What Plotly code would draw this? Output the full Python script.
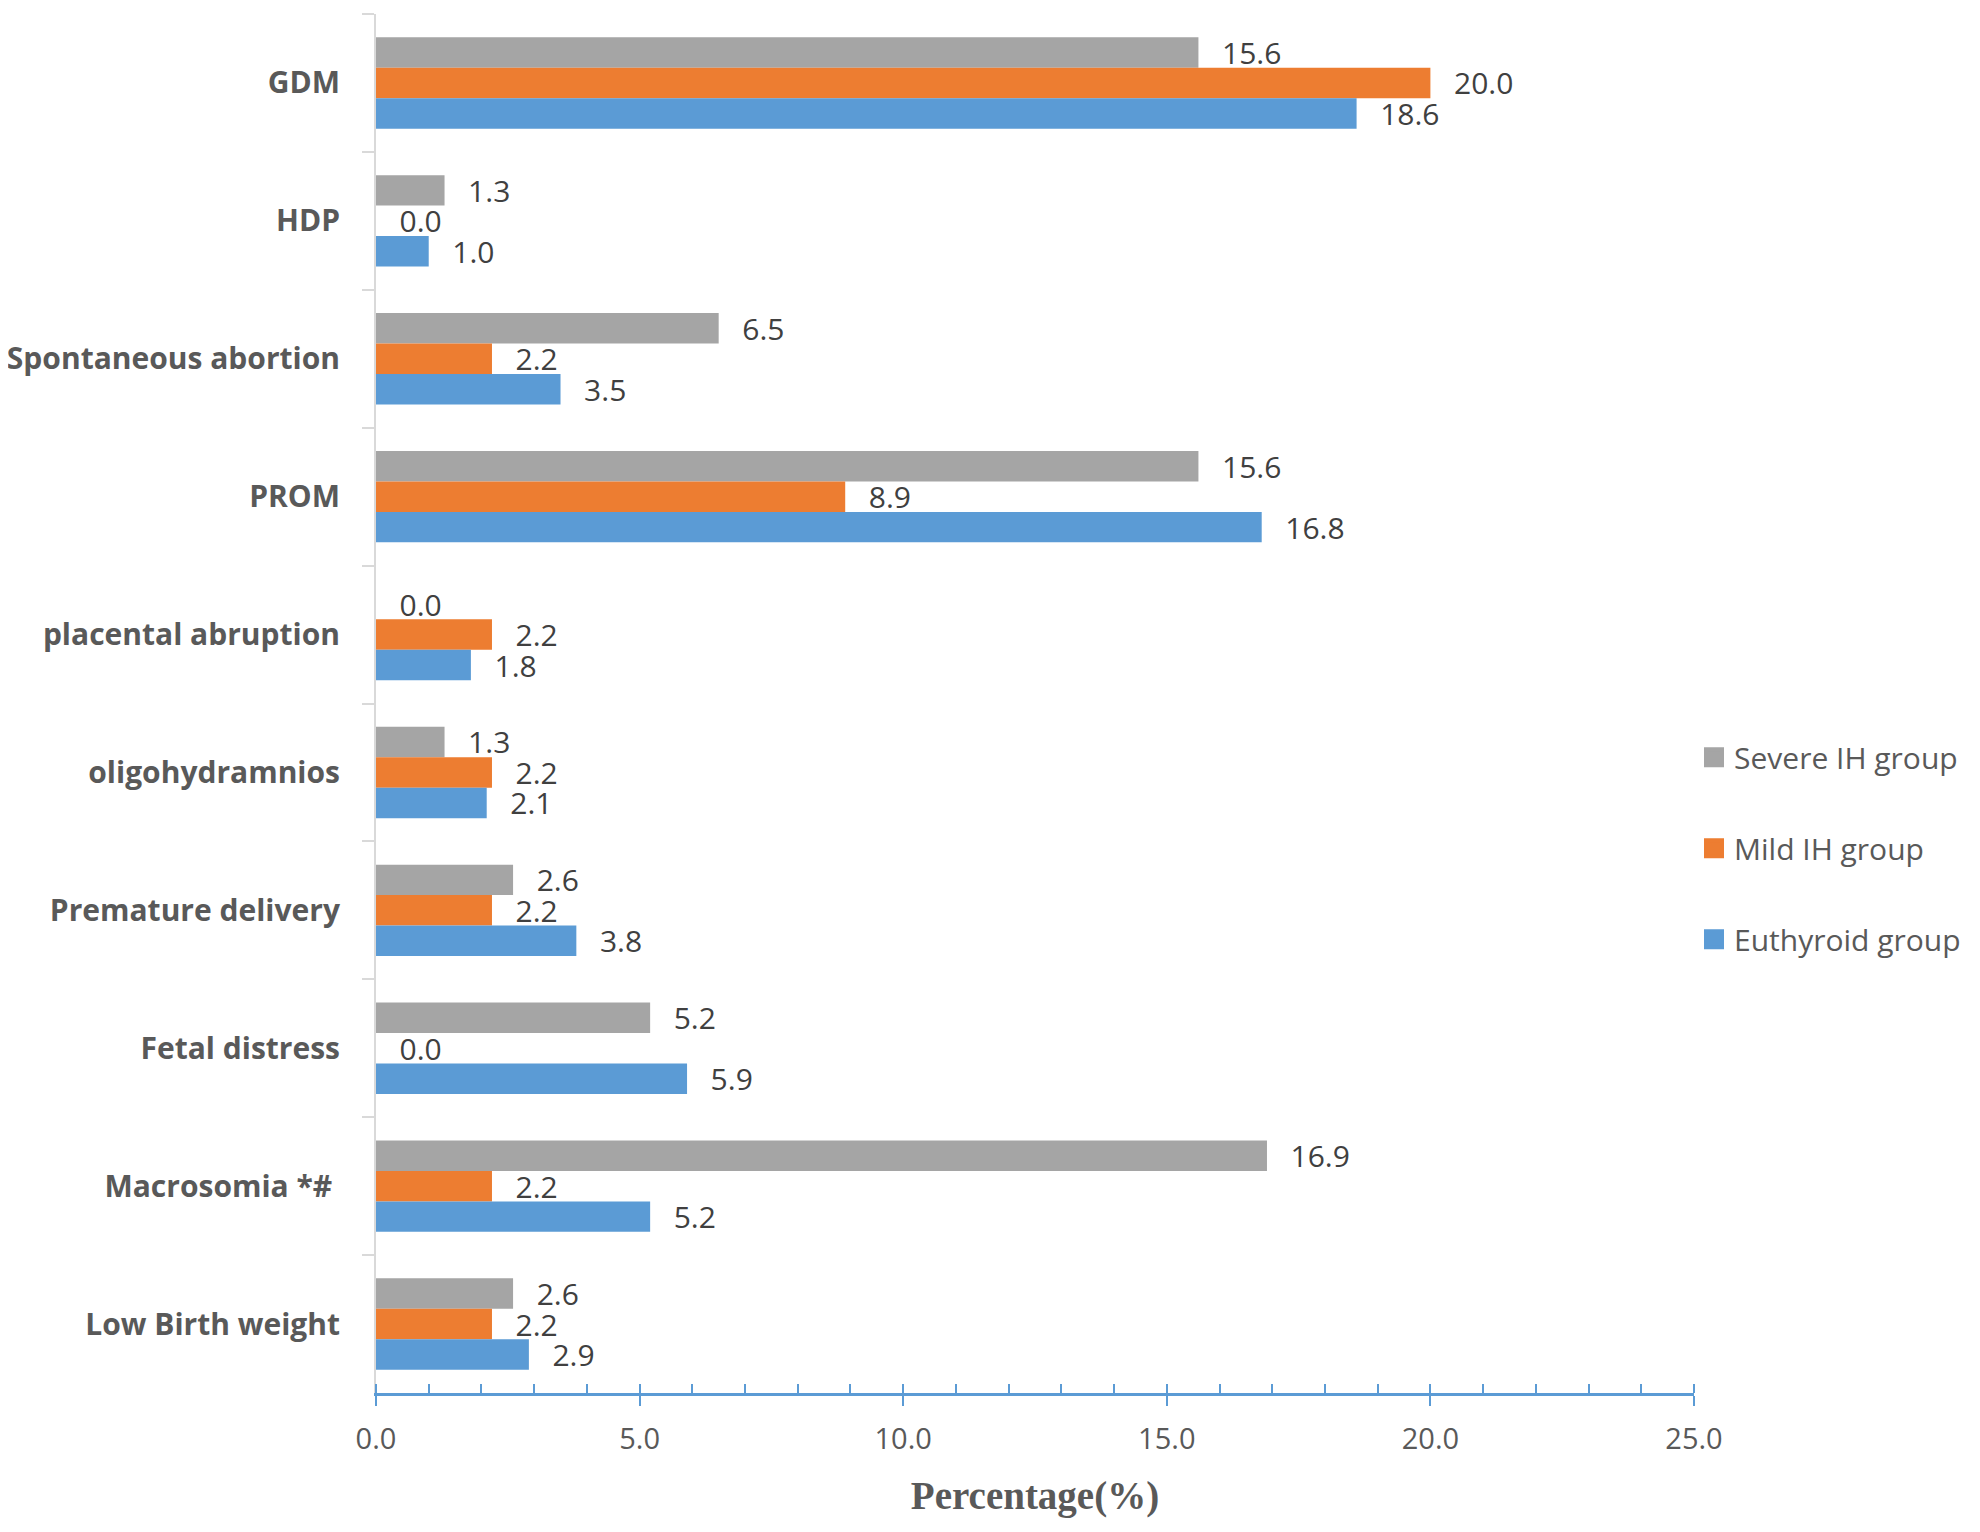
import plotly.graph_objects as go

categories = ['GDM', 'HDP', 'Spontaneous abortion', 'PROM', 'placental abruption',
              'oligohydramnios', 'Premature delivery', 'Fetal distress',
              'Macrosomia *#\u00a0', 'Low Birth weight']
severe_ih = [15.6, 1.3, 6.5, 15.6, 0.0, 1.3, 2.6, 5.2, 16.9, 2.6]
mild_ih = [20.0, 0.0, 2.2, 8.9, 2.2, 2.2, 2.2, 0.0, 2.2, 2.2]
euthyroid = [18.6, 1.0, 3.5, 16.8, 1.8, 2.1, 3.8, 5.9, 5.2, 2.9]

series = [('Severe IH group', severe_ih, '#a5a5a5'),
          ('Mild IH group', mild_ih, '#ed7d31'),
          ('Euthyroid group', euthyroid, '#5b9bd5')]

label_font = dict(family='Open Sans', size=30, color='#404040')

fig = go.Figure()
for name, vals, color in series:
    fig.add_trace(go.Bar(
        x=vals, y=categories, orientation='h', name=name,
        marker=dict(color=color, line=dict(width=0)),
        text=vals, texttemplate='\u00a0\u00a0\u2009%{x:.1f}',
        textposition='outside', textfont=label_font,
        constraintext='none', cliponaxis=False,
        showlegend=False, hoverinfo='x+y',
    ))

# legend entries with bigger square swatches
for i, (name, vals, color) in enumerate(series):
    fig.add_trace(go.Scatter(
        x=[None], y=[None], mode='markers', name=name, legendgroup=str(i),
        marker=dict(symbol='square', size=16, color=color, line=dict(color=color, width=4)),
    ))

fig.update_layout(
    width=1980, height=1532,
    margin=dict(l=368, r=294, t=6, b=147, autoexpand=False),
    paper_bgcolor='white', plot_bgcolor='white',
    barmode='group', bargap=0.337, bargroupgap=0,
    showlegend=True,
    legend=dict(x=1.0, xanchor='left', y=0.395, yanchor='middle',
                font=dict(family='Open Sans', size=30, color='#595959'),
                traceorder='grouped', tracegroupgap=49, itemsizing='trace'),
    xaxis=dict(
        range=[0, 25], dtick=5, tickformat='.1f', automargin=False,
        showgrid=False, zeroline=False,
        showline=True, linecolor='#5b9bd5', linewidth=3,
        ticks='outside', ticklen=10, tickwidth=2, tickcolor='#5b9bd5',
        minor=dict(dtick=1, ticks='inside', ticklen=9, tickwidth=2, tickcolor='#5b9bd5'),
        tickfont=dict(family='Open Sans', size=29, color='#595959'),
        ticklabelstandoff=8,
        title=dict(text='<b>Percentage(%)</b>', standoff=26,
                   font=dict(family='Liberation Serif', size=39, color='#595959')),
    ),
    xaxis2=dict(
        overlaying='x', anchor='y', side='bottom', range=[0, 25], dtick=5,
        showgrid=False, zeroline=False, showline=False, showticklabels=False,
        ticks='inside', ticklen=9, tickwidth=2, tickcolor='#5b9bd5',
    ),
    yaxis=dict(
        type='category', range=[9.5, -0.5], automargin=False,
        showgrid=False, zeroline=False,
        showline=True, linecolor='#d9d9d9', linewidth=2,
        ticks='outside', tickson='boundaries', ticklen=12, tickwidth=2, tickcolor='#d9d9d9',
        tickfont=dict(family='Open Sans', size=30, color='#595959', weight='bold'),
        ticklabelstandoff=28,
    ),
)

fig.write_html('out.html')
